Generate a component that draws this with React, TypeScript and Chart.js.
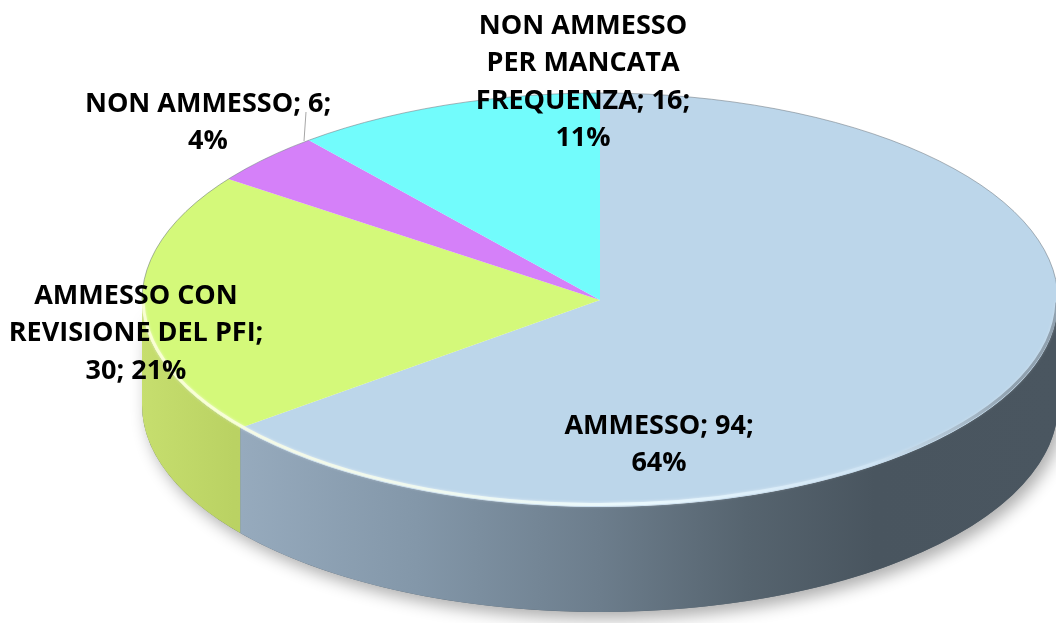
import { useEffect, useRef } from "react";
import { Chart, registerables } from "chart.js";

Chart.register(...registerables);

// ---- data ----
const categories = [
  "AMMESSO",
  "AMMESSO CON REVISIONE DEL PFI",
  "NON AMMESSO",
  "NON AMMESSO PER MANCATA FREQUENZA",
];
const counts = [94, 30, 6, 16];

// ---- styles / layout ----
const faceColors = ["#bcd6ea", "#d4f97a", "#d580f9", "#72fcfc"];
const RX = 458;
const RY = 207;
const DEPTH = 105;
const FONT_SIZE = 27;
const LINE_H = 37.5;
const labelPos = [
  { x: 659, y: 424, w: 215 },
  { x: 136, y: 294, w: 275 },
  { x: 208, y: 102, w: 265 },
  { x: 583, y: 24, w: 235 },
];
const leader = { x1: 306, y1: 112, x2: 304, y2: 141 };

function wrap(ctx: CanvasRenderingContext2D, text: string, maxW: number) {
  const words = text.split(" ");
  const lines: string[] = [];
  let cur = "";
  for (const w of words) {
    const t = cur ? cur + " " + w : w;
    if (cur && ctx.measureText(t).width > maxW) {
      lines.push(cur);
      cur = w;
    } else cur = t;
  }
  if (cur) lines.push(cur);
  return lines;
}

function sideFill(ctx: CanvasRenderingContext2D, idx: number, cx: number) {
  const g = ctx.createLinearGradient(cx - RX, 0, cx + RX, 0);
  if (idx === 0) {
    g.addColorStop(0, "#a9bdd1");
    g.addColorStop(0.07, "#9aaec1");
    g.addColorStop(0.3, "#8397a9");
    g.addColorStop(0.5, "#6c7d8c");
    g.addColorStop(0.66, "#56646f");
    g.addColorStop(0.8, "#49555f");
    g.addColorStop(1, "#4a5660");
  } else if (idx === 1) {
    g.addColorStop(0, "#c6de6e");
    g.addColorStop(0.1, "#bad263");
    g.addColorStop(1, "#a8be58");
  } else if (idx === 2) {
    g.addColorStop(0, "#b56ad4");
    g.addColorStop(1, "#8a4fa3");
  } else {
    g.addColorStop(0, "#60d6d6");
    g.addColorStop(1, "#46a0a0");
  }
  return g;
}

const pie3d = {
  id: "pie3d",
  beforeDatasetsDraw(chart: any) {
    const meta = chart.getDatasetMeta(0);
    const arcs = meta.data;
    const ctx: CanvasRenderingContext2D = chart.ctx;
    if (!arcs.length) return;
    const p = arcs[0].getProps(["x", "y", "outerRadius"], true);
    const cx = p.x, cy = p.y, r = p.outerRadius;

    // shadow under the whole cylinder
    ctx.save();
    ctx.shadowColor = "rgba(0,0,0,0.32)";
    ctx.shadowBlur = 16;
    ctx.shadowOffsetX = 5;
    ctx.shadowOffsetY = 7;
    ctx.beginPath();
    ctx.ellipse(cx, cy, RX, RY, 0, 0, Math.PI);
    ctx.ellipse(cx, cy + DEPTH, RX, RY, 0, Math.PI, 0, true);
    ctx.closePath();
    ctx.fillStyle = "#5a6670";
    ctx.fill();
    ctx.restore();

    // side walls, from the arcs computed by Chart.js
    arcs.forEach((arc: any, i: number) => {
      const a = arc.getProps(["startAngle", "endAngle"], true);
      for (const k of [0, 2 * Math.PI, -2 * Math.PI]) {
        const s = Math.max(a.startAngle, 0 + k);
        const e = Math.min(a.endAngle, Math.PI + k);
        if (e > s) {
          ctx.save();
          ctx.beginPath();
          ctx.ellipse(cx, cy, RX, RY, 0, s, e);
          ctx.ellipse(cx, cy + DEPTH, RX, RY, 0, e, s, true);
          ctx.closePath();
          ctx.fillStyle = sideFill(ctx, i, cx);
          ctx.fill();
          ctx.restore();
        }
      }
    });

    // top face: let Chart.js draw the pie squashed into an ellipse
    ctx.save();
    ctx.translate(cx, cy);
    ctx.scale(RX / r, RY / r);
    ctx.translate(-cx, -cy);
  },
  afterDatasetsDraw(chart: any) {
    const ctx: CanvasRenderingContext2D = chart.ctx;
    ctx.restore();
    const meta = chart.getDatasetMeta(0);
    if (!meta.data.length) return;
    const p = meta.data[0].getProps(["x", "y"], true);
    const cx = p.x, cy = p.y;
    // rim highlight on front edge
    ctx.save();
    const g = ctx.createLinearGradient(cx - RX, 0, cx + RX, 0);
    g.addColorStop(0, "rgba(255,255,220,0.8)");
    g.addColorStop(0.55, "rgba(235,250,255,0.9)");
    g.addColorStop(0.8, "rgba(220,240,255,0.35)");
    g.addColorStop(0.95, "rgba(60,70,80,0.4)");
    ctx.strokeStyle = g;
    ctx.lineWidth = 3;
    ctx.shadowColor = "rgba(255,255,255,0.7)";
    ctx.shadowBlur = 3;
    ctx.beginPath();
    ctx.ellipse(cx, cy - 1.5, RX - 1, RY - 1, 0, 0.02, Math.PI - 0.02);
    ctx.stroke();
    ctx.restore();
    // thin outline on back edge
    ctx.save();
    ctx.strokeStyle = "rgba(110,120,130,0.55)";
    ctx.lineWidth = 1;
    ctx.beginPath();
    ctx.ellipse(cx, cy, RX, RY, 0, Math.PI, 2 * Math.PI);
    ctx.stroke();
    ctx.restore();
  },
  afterDraw(chart: any) {
    const ctx: CanvasRenderingContext2D = chart.ctx;
    const data: number[] = chart.data.datasets[0].data;
    const labels: string[] = chart.data.labels;
    const total = data.reduce((s, v) => s + v, 0);
    ctx.save();
    ctx.font = `bold ${FONT_SIZE}px "Open Sans"`;
    ctx.fillStyle = "#000";
    ctx.textAlign = "center";
    ctx.textBaseline = "alphabetic";
    const capHalf = (0.714 * FONT_SIZE) / 2;
    data.forEach((v, i) => {
      const pct = Math.round((v / total) * 100) + "%";
      const text = `${labels[i]}; ${v}; ${pct}`;
      const lp = labelPos[i];
      const lines = wrap(ctx, text, lp.w);
      lines.forEach((ln, j) => {
        ctx.fillText(ln, lp.x, lp.y + j * LINE_H + capHalf);
      });
    });
    // leader line for the small slice
    ctx.strokeStyle = "#a6a6a6";
    ctx.lineWidth = 1;
    ctx.beginPath();
    ctx.moveTo(leader.x1, leader.y1);
    ctx.lineTo(leader.x2, leader.y2);
    ctx.stroke();
    ctx.restore();
  },
};

export default function App() {
  const ref = useRef<HTMLCanvasElement>(null);
  useEffect(() => {
    const chart = new Chart(ref.current as HTMLCanvasElement, {
      type: "pie",
      data: {
        labels: categories,
        datasets: [
          {
            data: counts,
            backgroundColor: faceColors,
            borderWidth: 0,
            clip: false as any,
          },
        ],
      },
      options: {
        responsive: false,
        animation: false,
        events: [],
        layout: { padding: { left: 144, right: 0, top: 0, bottom: 23 } },
        plugins: { legend: { display: false }, tooltip: { enabled: false } },
      },
      plugins: [pie3d as any],
    });
    return () => chart.destroy();
  }, []);
  return (
    <div style={{ position: "fixed", left: 0, top: 0, width: 1056, height: 623, background: "#fff" }}>
      <canvas ref={ref} width={1056} height={623} style={{ display: "block" }} />
    </div>
  );
}
